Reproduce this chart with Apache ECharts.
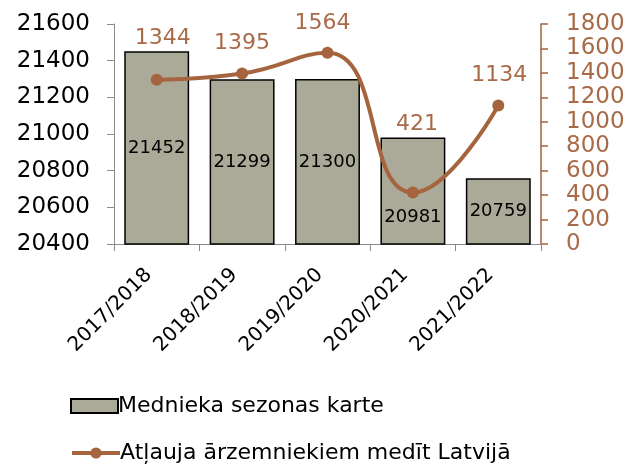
<!DOCTYPE html>
<html>
<head>
<meta charset="utf-8">
<script src="https://cdn.jsdelivr.net/npm/echarts@6/dist/echarts.min.js"></script>
<style>html,body{margin:0;padding:0;background:#fff}#c{width:628px;height:466px}</style>
</head>
<body>
<div id="c"></div>
<script>
const categories = ['2017/2018', '2018/2019', '2019/2020', '2020/2021', '2021/2022'];
const seasonCards = [21452, 21299, 21300, 20981, 20759];
const foreignPermits = [1344, 1395, 1564, 421, 1134];
const barName = 'Mednieka sezonas karte';
const lineName = 'Atļauja ārzemniekiem medīt Latvijā';

const FONT = 'DejaVu Sans';
const BROWN = '#A5633E';
const BROWN_TXT = '#A86A47';
const BAR = '#ABAA98';

// per-item label adjustments (styling only)
const lineLabelOffsets = [[6, -11], [0, 0], [-5, 0], [4, -38], [1, 0]];

const legendText = {fontFamily: FONT, fontSize: 22, color: '#000', padding: [0, 0, 0, -5]};

const chart = echarts.init(document.getElementById('c'), null, {renderer: 'canvas'});
chart.setOption({
  animation: false,
  textStyle: {fontFamily: FONT},
  grid: {left: 114, right: 87, top: 24, bottom: 222, containLabel: false},
  legend: [
    {
      left: 65, top: 390, itemWidth: 47, itemHeight: 14,
      textStyle: legendText,
      data: [{name: barName, icon: 'rect', itemStyle: {borderWidth: 2, borderColor: '#000'}}]
    },
    {
      left: 65, top: 437, itemWidth: 48, itemHeight: 14,
      textStyle: legendText,
      data: [{name: lineName, lineStyle: {width: 4, color: BROWN}}]
    }
  ],
  xAxis: {
    type: 'category', data: categories,
    axisLine: {lineStyle: {color: '#8C8C8C', width: 1}},
    axisTick: {show: true, length: 7, lineStyle: {color: '#8C8C8C'}},
    axisLabel: {rotate: 45, margin: 20, padding: [0, 11, 0, 0], fontFamily: FONT, fontSize: 20, color: '#000', interval: 0}
  },
  yAxis: [
    {
      type: 'value', min: 20400, max: 21600, interval: 200,
      splitLine: {show: false},
      axisLine: {show: true, lineStyle: {color: '#8C8C8C'}},
      axisTick: {show: true, length: 7, lineStyle: {color: '#8C8C8C'}},
      axisLabel: {margin: 24, fontFamily: FONT, fontSize: 23, color: '#000', formatter: v => String(v)}
    },
    {
      type: 'value', min: 0, max: 1800, interval: 200, position: 'right',
      splitLine: {show: false},
      axisLine: {show: true, lineStyle: {color: BROWN, width: 1.5}},
      axisTick: {show: true, length: 7, lineStyle: {color: BROWN, width: 1.5}},
      axisLabel: {margin: 25, fontFamily: FONT, fontSize: 23, color: BROWN_TXT, formatter: v => String(v)}
    }
  ],
  series: [
    {
      name: barName, type: 'bar', yAxisIndex: 0, barCategoryGap: '24%',
      itemStyle: {color: BAR, borderColor: '#000', borderWidth: 1.5},
      label: {show: true, position: 'inside', fontFamily: FONT, fontSize: 18, color: '#000'},
      data: seasonCards.map((v, i) => i === 3
        ? {value: v, label: {position: 'insideBottom', distance: 18}}
        : v)
    },
    {
      name: lineName, type: 'line', yAxisIndex: 1, smooth: 0.5,
      symbol: 'circle', symbolSize: 12,
      lineStyle: {color: BROWN, width: 4},
      itemStyle: {color: BROWN},
      label: {show: true, position: 'top', distance: 13, fontFamily: FONT, fontSize: 22, color: BROWN_TXT},
      data: foreignPermits.map((v, i) => ({value: v, label: {offset: lineLabelOffsets[i]}}))
    }
  ]
});
</script>
</body>
</html>
